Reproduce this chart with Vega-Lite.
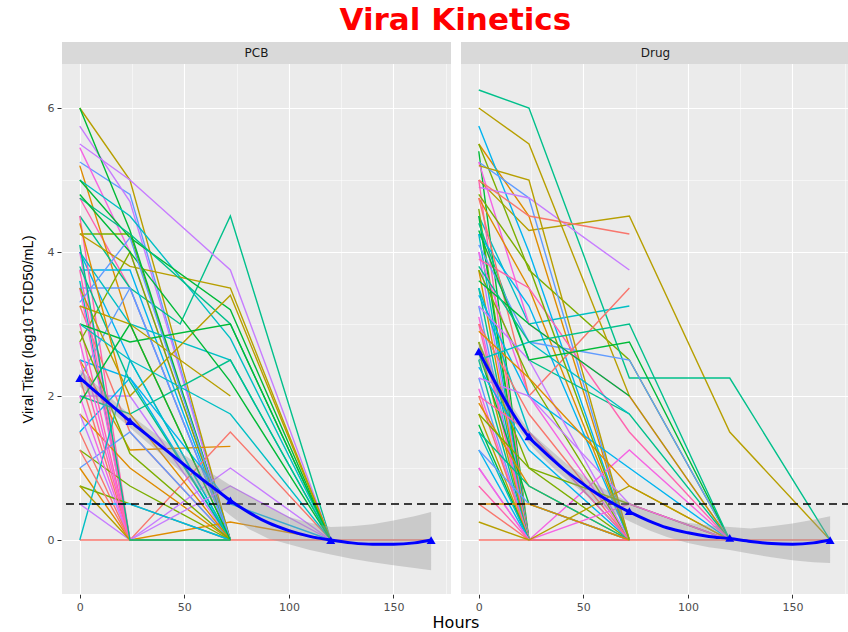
{
"$schema":"https://vega.github.io/schema/vega-lite/v6.json",
"padding":{"left":20,"top":5,"right":0,"bottom":0},
"title":{"text":"Viral Kinetics","font":"DejaVu Sans","fontSize":31,"fontWeight":"bold","color":"#FF0000","anchor":"middle","frame":"bounds","dx":20,"offset":5},
"config":{"view":{"fill":"#EBEBEB","stroke":null},"axis":{"domain":false,"gridColor":"#FFFFFF","tickColor":"#333333","labelColor":"#4D4D4D","labelFont":"DejaVu Sans","labelFontSize":11,"tickSize":4,"labelPadding":3,"titleFont":"Liberation Sans","titleFontWeight":"normal","titleColor":"#000000"}},
"data":{"values":[
{"k":"h","a":"PCB"},{"k":"h","a":"Drug"},
{"k":"m","a":"PCB","t":0,"v":2.25},{"k":"m","a":"PCB","t":24,"v":1.65},{"k":"m","a":"PCB","t":72,"v":0.55},{"k":"m","a":"PCB","t":120,"v":0},{"k":"m","a":"PCB","t":168,"v":0},
{"k":"m","a":"Drug","t":0,"v":2.62},{"k":"m","a":"Drug","t":24,"v":1.44},{"k":"m","a":"Drug","t":72,"v":0.4},{"k":"m","a":"Drug","t":120,"v":0.03},{"k":"m","a":"Drug","t":168,"v":0},
{"k":"f","a":"PCB","t":0,"v":2.25,"lo":2.13,"hi":2.37},{"k":"f","a":"PCB","t":6,"v":2.1,"lo":1.99,"hi":2.21},{"k":"f","a":"PCB","t":12,"v":1.95,"lo":1.85,"hi":2.05},{"k":"f","a":"PCB","t":18,"v":1.8,"lo":1.71,"hi":1.89},{"k":"f","a":"PCB","t":24,"v":1.65,"lo":1.56,"hi":1.74},{"k":"f","a":"PCB","t":30,"v":1.51,"lo":1.41,"hi":1.61},{"k":"f","a":"PCB","t":36,"v":1.37,"lo":1.26,"hi":1.48},{"k":"f","a":"PCB","t":42,"v":1.23,"lo":1.11,"hi":1.35},{"k":"f","a":"PCB","t":48,"v":1.09,"lo":0.96,"hi":1.22},{"k":"f","a":"PCB","t":54,"v":0.95,"lo":0.8,"hi":1.1},{"k":"f","a":"PCB","t":60,"v":0.81,"lo":0.64,"hi":0.98},{"k":"f","a":"PCB","t":66,"v":0.68,"lo":0.49,"hi":0.87},{"k":"f","a":"PCB","t":72,"v":0.55,"lo":0.34,"hi":0.76},{"k":"f","a":"PCB","t":81,"v":0.38,"lo":0.15,"hi":0.61},{"k":"f","a":"PCB","t":90,"v":0.24,"lo":0.02,"hi":0.46},{"k":"f","a":"PCB","t":100,"v":0.13,"lo":-0.06,"hi":0.32},{"k":"f","a":"PCB","t":110,"v":0.05,"lo":-0.14,"hi":0.24},{"k":"f","a":"PCB","t":120,"v":0,"lo":-0.2,"hi":0.18},{"k":"f","a":"PCB","t":130,"v":-0.04,"lo":-0.26,"hi":0.19},{"k":"f","a":"PCB","t":140,"v":-0.06,"lo":-0.31,"hi":0.22},{"k":"f","a":"PCB","t":150,"v":-0.06,"lo":-0.35,"hi":0.27},{"k":"f","a":"PCB","t":160,"v":-0.04,"lo":-0.39,"hi":0.33},{"k":"f","a":"PCB","t":168,"v":0,"lo":-0.42,"hi":0.39},
{"k":"f","a":"Drug","t":0,"v":2.62,"lo":2.48,"hi":2.76},{"k":"f","a":"Drug","t":4,"v":2.4,"lo":2.28,"hi":2.52},{"k":"f","a":"Drug","t":8,"v":2.18,"lo":2.07,"hi":2.29},{"k":"f","a":"Drug","t":12,"v":1.97,"lo":1.87,"hi":2.07},{"k":"f","a":"Drug","t":16,"v":1.77,"lo":1.68,"hi":1.86},{"k":"f","a":"Drug","t":20,"v":1.59,"lo":1.5,"hi":1.68},{"k":"f","a":"Drug","t":24,"v":1.43,"lo":1.34,"hi":1.52},{"k":"f","a":"Drug","t":30,"v":1.26,"lo":1.16,"hi":1.36},{"k":"f","a":"Drug","t":36,"v":1.1,"lo":0.99,"hi":1.21},{"k":"f","a":"Drug","t":42,"v":0.95,"lo":0.84,"hi":1.06},{"k":"f","a":"Drug","t":48,"v":0.82,"lo":0.7,"hi":0.94},{"k":"f","a":"Drug","t":54,"v":0.69,"lo":0.57,"hi":0.81},{"k":"f","a":"Drug","t":60,"v":0.58,"lo":0.45,"hi":0.71},{"k":"f","a":"Drug","t":66,"v":0.48,"lo":0.35,"hi":0.61},{"k":"f","a":"Drug","t":72,"v":0.39,"lo":0.26,"hi":0.52},{"k":"f","a":"Drug","t":81,"v":0.27,"lo":0.14,"hi":0.4},{"k":"f","a":"Drug","t":90,"v":0.17,"lo":0.04,"hi":0.3},{"k":"f","a":"Drug","t":100,"v":0.1,"lo":-0.04,"hi":0.24},{"k":"f","a":"Drug","t":110,"v":0.05,"lo":-0.1,"hi":0.2},{"k":"f","a":"Drug","t":120,"v":0.02,"lo":-0.14,"hi":0.18},{"k":"f","a":"Drug","t":130,"v":-0.02,"lo":-0.19,"hi":0.16},{"k":"f","a":"Drug","t":140,"v":-0.05,"lo":-0.24,"hi":0.19},{"k":"f","a":"Drug","t":150,"v":-0.06,"lo":-0.28,"hi":0.23},{"k":"f","a":"Drug","t":160,"v":-0.04,"lo":-0.31,"hi":0.28},{"k":"f","a":"Drug","t":168,"v":0,"lo":-0.32,"hi":0.33},
{"k":"s","a":"PCB","id":"P01","t":0,"v":3.6},{"k":"s","a":"PCB","id":"P01","t":24,"v":0},{"k":"s","a":"PCB","id":"P01","t":72,"v":0},
{"k":"s","a":"PCB","id":"P02","t":0,"v":4.0},{"k":"s","a":"PCB","id":"P02","t":24,"v":2.5},{"k":"s","a":"PCB","id":"P02","t":72,"v":0},
{"k":"s","a":"PCB","id":"P03","t":0,"v":5.25},{"k":"s","a":"PCB","id":"P03","t":24,"v":4.8},{"k":"s","a":"PCB","id":"P03","t":72,"v":0},
{"k":"s","a":"PCB","id":"P04","t":0,"v":5.75},{"k":"s","a":"PCB","id":"P04","t":24,"v":4.7},{"k":"s","a":"PCB","id":"P04","t":72,"v":0},
{"k":"s","a":"PCB","id":"P05","t":0,"v":5.45},{"k":"s","a":"PCB","id":"P05","t":24,"v":4.0},{"k":"s","a":"PCB","id":"P05","t":72,"v":0},
{"k":"s","a":"PCB","id":"P06","t":0,"v":4.75},{"k":"s","a":"PCB","id":"P06","t":24,"v":3.5},{"k":"s","a":"PCB","id":"P06","t":72,"v":0},
{"k":"s","a":"PCB","id":"P07","t":0,"v":0},{"k":"s","a":"PCB","id":"P07","t":24,"v":0},{"k":"s","a":"PCB","id":"P07","t":72,"v":0},{"k":"s","a":"PCB","id":"P07","t":120,"v":0},{"k":"s","a":"PCB","id":"P07","t":168,"v":0},
{"k":"s","a":"PCB","id":"P08","t":0,"v":5.2},{"k":"s","a":"PCB","id":"P08","t":24,"v":3.0},{"k":"s","a":"PCB","id":"P08","t":72,"v":0},
{"k":"s","a":"PCB","id":"P09","t":0,"v":6.0},{"k":"s","a":"PCB","id":"P09","t":24,"v":5.0},{"k":"s","a":"PCB","id":"P09","t":72,"v":0},
{"k":"s","a":"PCB","id":"P10","t":0,"v":4.25},{"k":"s","a":"PCB","id":"P10","t":24,"v":4.25},{"k":"s","a":"PCB","id":"P10","t":72,"v":0},
{"k":"s","a":"PCB","id":"P11","t":0,"v":6.0},{"k":"s","a":"PCB","id":"P11","t":24,"v":4.3},{"k":"s","a":"PCB","id":"P11","t":72,"v":0},
{"k":"s","a":"PCB","id":"P12","t":0,"v":4.5},{"k":"s","a":"PCB","id":"P12","t":24,"v":3.5},{"k":"s","a":"PCB","id":"P12","t":48,"v":3.0},{"k":"s","a":"PCB","id":"P12","t":72,"v":4.5},{"k":"s","a":"PCB","id":"P12","t":120,"v":0},
{"k":"s","a":"PCB","id":"P13","t":0,"v":5.0},{"k":"s","a":"PCB","id":"P13","t":24,"v":4.5},{"k":"s","a":"PCB","id":"P13","t":72,"v":2.8},{"k":"s","a":"PCB","id":"P13","t":120,"v":0},
{"k":"s","a":"PCB","id":"P14","t":0,"v":3.75},{"k":"s","a":"PCB","id":"P14","t":24,"v":3.75},{"k":"s","a":"PCB","id":"P14","t":72,"v":0},
{"k":"s","a":"PCB","id":"P15","t":0,"v":3.5},{"k":"s","a":"PCB","id":"P15","t":24,"v":3.5},{"k":"s","a":"PCB","id":"P15","t":72,"v":0},
{"k":"s","a":"PCB","id":"P16","t":0,"v":5.5},{"k":"s","a":"PCB","id":"P16","t":24,"v":5.0},{"k":"s","a":"PCB","id":"P16","t":72,"v":3.75},{"k":"s","a":"PCB","id":"P16","t":120,"v":0},
{"k":"s","a":"PCB","id":"P17","t":0,"v":4.0},{"k":"s","a":"PCB","id":"P17","t":24,"v":0},{"k":"s","a":"PCB","id":"P17","t":72,"v":0},
{"k":"s","a":"PCB","id":"P18","t":0,"v":4.5},{"k":"s","a":"PCB","id":"P18","t":24,"v":0},{"k":"s","a":"PCB","id":"P18","t":72,"v":0},
{"k":"s","a":"PCB","id":"P19","t":0,"v":3.25},{"k":"s","a":"PCB","id":"P19","t":24,"v":1.5},{"k":"s","a":"PCB","id":"P19","t":72,"v":0},
{"k":"s","a":"PCB","id":"P20","t":0,"v":2.5},{"k":"s","a":"PCB","id":"P20","t":24,"v":1.25},{"k":"s","a":"PCB","id":"P20","t":72,"v":1.3},
{"k":"s","a":"PCB","id":"P21","t":0,"v":4.25},{"k":"s","a":"PCB","id":"P21","t":24,"v":3.8},{"k":"s","a":"PCB","id":"P21","t":72,"v":3.5},{"k":"s","a":"PCB","id":"P21","t":120,"v":0},
{"k":"s","a":"PCB","id":"P22","t":0,"v":2.75},{"k":"s","a":"PCB","id":"P22","t":24,"v":4.0},{"k":"s","a":"PCB","id":"P22","t":72,"v":0},
{"k":"s","a":"PCB","id":"P23","t":0,"v":5.0},{"k":"s","a":"PCB","id":"P23","t":24,"v":4.2},{"k":"s","a":"PCB","id":"P23","t":72,"v":3.2},{"k":"s","a":"PCB","id":"P23","t":120,"v":0},
{"k":"s","a":"PCB","id":"P24","t":0,"v":4.75},{"k":"s","a":"PCB","id":"P24","t":24,"v":4.25},{"k":"s","a":"PCB","id":"P24","t":72,"v":3.0},{"k":"s","a":"PCB","id":"P24","t":120,"v":0},
{"k":"s","a":"PCB","id":"P25","t":0,"v":4.0},{"k":"s","a":"PCB","id":"P25","t":24,"v":3.0},{"k":"s","a":"PCB","id":"P25","t":72,"v":2.5},{"k":"s","a":"PCB","id":"P25","t":120,"v":0},
{"k":"s","a":"PCB","id":"P26","t":0,"v":2.5},{"k":"s","a":"PCB","id":"P26","t":24,"v":2.25},{"k":"s","a":"PCB","id":"P26","t":72,"v":0},
{"k":"s","a":"PCB","id":"P27","t":0,"v":2.25},{"k":"s","a":"PCB","id":"P27","t":24,"v":3.5},{"k":"s","a":"PCB","id":"P27","t":72,"v":0},
{"k":"s","a":"PCB","id":"P28","t":0,"v":2.0},{"k":"s","a":"PCB","id":"P28","t":24,"v":2.0},{"k":"s","a":"PCB","id":"P28","t":72,"v":0},
{"k":"s","a":"PCB","id":"P29","t":0,"v":3.5},{"k":"s","a":"PCB","id":"P29","t":24,"v":0},{"k":"s","a":"PCB","id":"P29","t":72,"v":0},
{"k":"s","a":"PCB","id":"P30","t":0,"v":3.75},{"k":"s","a":"PCB","id":"P30","t":24,"v":0},{"k":"s","a":"PCB","id":"P30","t":72,"v":0},
{"k":"s","a":"PCB","id":"P31","t":0,"v":2.25},{"k":"s","a":"PCB","id":"P31","t":24,"v":0},{"k":"s","a":"PCB","id":"P31","t":72,"v":1.5},{"k":"s","a":"PCB","id":"P31","t":120,"v":0},
{"k":"s","a":"PCB","id":"P32","t":0,"v":1.75},{"k":"s","a":"PCB","id":"P32","t":24,"v":1.0},{"k":"s","a":"PCB","id":"P32","t":72,"v":0},
{"k":"s","a":"PCB","id":"P33","t":0,"v":3.5},{"k":"s","a":"PCB","id":"P33","t":24,"v":2.0},{"k":"s","a":"PCB","id":"P33","t":72,"v":3.4},{"k":"s","a":"PCB","id":"P33","t":120,"v":0},
{"k":"s","a":"PCB","id":"P34","t":0,"v":1.25},{"k":"s","a":"PCB","id":"P34","t":24,"v":0.75},{"k":"s","a":"PCB","id":"P34","t":72,"v":0},
{"k":"s","a":"PCB","id":"P35","t":0,"v":3.0},{"k":"s","a":"PCB","id":"P35","t":24,"v":2.75},{"k":"s","a":"PCB","id":"P35","t":72,"v":3.0},{"k":"s","a":"PCB","id":"P35","t":120,"v":0},
{"k":"s","a":"PCB","id":"P36","t":0,"v":2.0},{"k":"s","a":"PCB","id":"P36","t":24,"v":1.75},{"k":"s","a":"PCB","id":"P36","t":72,"v":2.5},{"k":"s","a":"PCB","id":"P36","t":120,"v":0},
{"k":"s","a":"PCB","id":"P37","t":0,"v":3.0},{"k":"s","a":"PCB","id":"P37","t":24,"v":2.5},{"k":"s","a":"PCB","id":"P37","t":72,"v":1.75},{"k":"s","a":"PCB","id":"P37","t":120,"v":0},
{"k":"s","a":"PCB","id":"P38","t":0,"v":1.5},{"k":"s","a":"PCB","id":"P38","t":24,"v":2.25},{"k":"s","a":"PCB","id":"P38","t":72,"v":0.5},{"k":"s","a":"PCB","id":"P38","t":120,"v":0},
{"k":"s","a":"PCB","id":"P39","t":0,"v":1.0},{"k":"s","a":"PCB","id":"P39","t":24,"v":1.5},{"k":"s","a":"PCB","id":"P39","t":72,"v":0},
{"k":"s","a":"PCB","id":"P40","t":0,"v":1.75},{"k":"s","a":"PCB","id":"P40","t":24,"v":0},{"k":"s","a":"PCB","id":"P40","t":72,"v":1.0},{"k":"s","a":"PCB","id":"P40","t":120,"v":0},
{"k":"s","a":"PCB","id":"P41","t":0,"v":2.75},{"k":"s","a":"PCB","id":"P41","t":24,"v":0},{"k":"s","a":"PCB","id":"P41","t":72,"v":0},
{"k":"s","a":"PCB","id":"P42","t":0,"v":3.0},{"k":"s","a":"PCB","id":"P42","t":24,"v":0},{"k":"s","a":"PCB","id":"P42","t":72,"v":0},
{"k":"s","a":"PCB","id":"P43","t":0,"v":1.5},{"k":"s","a":"PCB","id":"P43","t":24,"v":0},{"k":"s","a":"PCB","id":"P43","t":72,"v":0},
{"k":"s","a":"PCB","id":"P44","t":0,"v":1.0},{"k":"s","a":"PCB","id":"P44","t":24,"v":0},{"k":"s","a":"PCB","id":"P44","t":72,"v":0.25},{"k":"s","a":"PCB","id":"P44","t":120,"v":0},
{"k":"s","a":"PCB","id":"P45","t":0,"v":3.25},{"k":"s","a":"PCB","id":"P45","t":24,"v":3.0},{"k":"s","a":"PCB","id":"P45","t":72,"v":2.0},
{"k":"s","a":"PCB","id":"P46","t":0,"v":0.75},{"k":"s","a":"PCB","id":"P46","t":24,"v":0.5},{"k":"s","a":"PCB","id":"P46","t":72,"v":0},
{"k":"s","a":"PCB","id":"P47","t":0,"v":4.8},{"k":"s","a":"PCB","id":"P47","t":24,"v":4.0},{"k":"s","a":"PCB","id":"P47","t":72,"v":2.2},{"k":"s","a":"PCB","id":"P47","t":120,"v":0},
{"k":"s","a":"PCB","id":"P48","t":0,"v":3.8},{"k":"s","a":"PCB","id":"P48","t":24,"v":2.2},{"k":"s","a":"PCB","id":"P48","t":72,"v":0},
{"k":"s","a":"PCB","id":"P49","t":0,"v":0},{"k":"s","a":"PCB","id":"P49","t":24,"v":2.5},{"k":"s","a":"PCB","id":"P49","t":72,"v":0},
{"k":"s","a":"PCB","id":"P50","t":0,"v":0.5},{"k":"s","a":"PCB","id":"P50","t":24,"v":0.5},{"k":"s","a":"PCB","id":"P50","t":72,"v":0},
{"k":"s","a":"PCB","id":"P51","t":0,"v":3.3},{"k":"s","a":"PCB","id":"P51","t":24,"v":4.2},{"k":"s","a":"PCB","id":"P51","t":72,"v":0},
{"k":"s","a":"PCB","id":"P52","t":0,"v":0.5},{"k":"s","a":"PCB","id":"P52","t":24,"v":0},{"k":"s","a":"PCB","id":"P52","t":72,"v":0.75},{"k":"s","a":"PCB","id":"P52","t":120,"v":0},
{"k":"s","a":"PCB","id":"P53","t":0,"v":2.0},{"k":"s","a":"PCB","id":"P53","t":24,"v":0},{"k":"s","a":"PCB","id":"P53","t":72,"v":0},
{"k":"s","a":"PCB","id":"P54","t":0,"v":2.5},{"k":"s","a":"PCB","id":"P54","t":24,"v":0},{"k":"s","a":"PCB","id":"P54","t":72,"v":0},
{"k":"s","a":"PCB","id":"P55","t":0,"v":1.25},{"k":"s","a":"PCB","id":"P55","t":24,"v":0},{"k":"s","a":"PCB","id":"P55","t":72,"v":0},
{"k":"s","a":"PCB","id":"P56","t":0,"v":4.4},{"k":"s","a":"PCB","id":"P56","t":24,"v":1.75},{"k":"s","a":"PCB","id":"P56","t":72,"v":0},
{"k":"s","a":"PCB","id":"P57","t":0,"v":0.75},{"k":"s","a":"PCB","id":"P57","t":24,"v":0},{"k":"s","a":"PCB","id":"P57","t":72,"v":0},
{"k":"s","a":"PCB","id":"P58","t":0,"v":2.9},{"k":"s","a":"PCB","id":"P58","t":24,"v":1.2},{"k":"s","a":"PCB","id":"P58","t":72,"v":0},
{"k":"s","a":"PCB","id":"P59","t":0,"v":1.9},{"k":"s","a":"PCB","id":"P59","t":24,"v":3.0},{"k":"s","a":"PCB","id":"P59","t":72,"v":0},
{"k":"s","a":"PCB","id":"P60","t":0,"v":4.1},{"k":"s","a":"PCB","id":"P60","t":24,"v":0},{"k":"s","a":"PCB","id":"P60","t":72,"v":0},
{"k":"s","a":"Drug","id":"D01","t":0,"v":0},{"k":"s","a":"Drug","id":"D01","t":24,"v":0},{"k":"s","a":"Drug","id":"D01","t":72,"v":0},{"k":"s","a":"Drug","id":"D01","t":120,"v":0},{"k":"s","a":"Drug","id":"D01","t":168,"v":0},
{"k":"s","a":"Drug","id":"D02","t":0,"v":5.5},{"k":"s","a":"Drug","id":"D02","t":24,"v":4.5},{"k":"s","a":"Drug","id":"D02","t":72,"v":0},
{"k":"s","a":"Drug","id":"D03","t":0,"v":5.0},{"k":"s","a":"Drug","id":"D03","t":24,"v":4.3},{"k":"s","a":"Drug","id":"D03","t":72,"v":4.5},{"k":"s","a":"Drug","id":"D03","t":120,"v":1.5},{"k":"s","a":"Drug","id":"D03","t":168,"v":0},
{"k":"s","a":"Drug","id":"D04","t":0,"v":5.5},{"k":"s","a":"Drug","id":"D04","t":24,"v":3.75},{"k":"s","a":"Drug","id":"D04","t":72,"v":2.5},{"k":"s","a":"Drug","id":"D04","t":120,"v":0},
{"k":"s","a":"Drug","id":"D05","t":0,"v":5.4},{"k":"s","a":"Drug","id":"D05","t":24,"v":0},{"k":"s","a":"Drug","id":"D05","t":72,"v":0},
{"k":"s","a":"Drug","id":"D06","t":0,"v":6.25},{"k":"s","a":"Drug","id":"D06","t":24,"v":6.0},{"k":"s","a":"Drug","id":"D06","t":72,"v":2.25},{"k":"s","a":"Drug","id":"D06","t":120,"v":2.25},{"k":"s","a":"Drug","id":"D06","t":168,"v":0},
{"k":"s","a":"Drug","id":"D07","t":0,"v":4.5},{"k":"s","a":"Drug","id":"D07","t":24,"v":3.0},{"k":"s","a":"Drug","id":"D07","t":72,"v":3.25},
{"k":"s","a":"Drug","id":"D08","t":0,"v":5.75},{"k":"s","a":"Drug","id":"D08","t":24,"v":4.0},{"k":"s","a":"Drug","id":"D08","t":72,"v":0},
{"k":"s","a":"Drug","id":"D09","t":0,"v":5.25},{"k":"s","a":"Drug","id":"D09","t":24,"v":4.75},{"k":"s","a":"Drug","id":"D09","t":72,"v":0},
{"k":"s","a":"Drug","id":"D10","t":0,"v":4.9},{"k":"s","a":"Drug","id":"D10","t":24,"v":4.75},{"k":"s","a":"Drug","id":"D10","t":72,"v":3.75},
{"k":"s","a":"Drug","id":"D11","t":0,"v":5.25},{"k":"s","a":"Drug","id":"D11","t":24,"v":3.0},{"k":"s","a":"Drug","id":"D11","t":72,"v":2.0},{"k":"s","a":"Drug","id":"D11","t":120,"v":0},
{"k":"s","a":"Drug","id":"D12","t":0,"v":5.0},{"k":"s","a":"Drug","id":"D12","t":24,"v":0},{"k":"s","a":"Drug","id":"D12","t":72,"v":0},
{"k":"s","a":"Drug","id":"D13","t":0,"v":5.0},{"k":"s","a":"Drug","id":"D13","t":24,"v":4.5},{"k":"s","a":"Drug","id":"D13","t":72,"v":4.25},
{"k":"s","a":"Drug","id":"D14","t":0,"v":4.75},{"k":"s","a":"Drug","id":"D14","t":24,"v":3.5},{"k":"s","a":"Drug","id":"D14","t":72,"v":0},
{"k":"s","a":"Drug","id":"D15","t":0,"v":6.0},{"k":"s","a":"Drug","id":"D15","t":24,"v":5.5},{"k":"s","a":"Drug","id":"D15","t":72,"v":2.0},{"k":"s","a":"Drug","id":"D15","t":120,"v":0},
{"k":"s","a":"Drug","id":"D16","t":0,"v":4.6},{"k":"s","a":"Drug","id":"D16","t":24,"v":0},{"k":"s","a":"Drug","id":"D16","t":72,"v":0},
{"k":"s","a":"Drug","id":"D17","t":0,"v":4.5},{"k":"s","a":"Drug","id":"D17","t":24,"v":0},{"k":"s","a":"Drug","id":"D17","t":72,"v":0},
{"k":"s","a":"Drug","id":"D18","t":0,"v":4.4},{"k":"s","a":"Drug","id":"D18","t":24,"v":2.5},{"k":"s","a":"Drug","id":"D18","t":72,"v":1.75},{"k":"s","a":"Drug","id":"D18","t":120,"v":0},
{"k":"s","a":"Drug","id":"D19","t":0,"v":4.25},{"k":"s","a":"Drug","id":"D19","t":24,"v":0},{"k":"s","a":"Drug","id":"D19","t":72,"v":0},
{"k":"s","a":"Drug","id":"D20","t":0,"v":4.25},{"k":"s","a":"Drug","id":"D20","t":24,"v":3.25},{"k":"s","a":"Drug","id":"D20","t":72,"v":0},
{"k":"s","a":"Drug","id":"D21","t":0,"v":4.1},{"k":"s","a":"Drug","id":"D21","t":24,"v":2.75},{"k":"s","a":"Drug","id":"D21","t":72,"v":2.5},{"k":"s","a":"Drug","id":"D21","t":120,"v":0},
{"k":"s","a":"Drug","id":"D22","t":0,"v":4.0},{"k":"s","a":"Drug","id":"D22","t":24,"v":0},{"k":"s","a":"Drug","id":"D22","t":72,"v":0},
{"k":"s","a":"Drug","id":"D23","t":0,"v":4.0},{"k":"s","a":"Drug","id":"D23","t":24,"v":2.0},{"k":"s","a":"Drug","id":"D23","t":72,"v":0},
{"k":"s","a":"Drug","id":"D24","t":0,"v":3.9},{"k":"s","a":"Drug","id":"D24","t":24,"v":3.5},{"k":"s","a":"Drug","id":"D24","t":72,"v":1.5},{"k":"s","a":"Drug","id":"D24","t":120,"v":0},
{"k":"s","a":"Drug","id":"D25","t":0,"v":4.75},{"k":"s","a":"Drug","id":"D25","t":24,"v":2.0},{"k":"s","a":"Drug","id":"D25","t":72,"v":3.5},
{"k":"s","a":"Drug","id":"D26","t":0,"v":3.75},{"k":"s","a":"Drug","id":"D26","t":24,"v":0},{"k":"s","a":"Drug","id":"D26","t":72,"v":0},
{"k":"s","a":"Drug","id":"D27","t":0,"v":5.2},{"k":"s","a":"Drug","id":"D27","t":24,"v":5.0},{"k":"s","a":"Drug","id":"D27","t":72,"v":0},
{"k":"s","a":"Drug","id":"D28","t":0,"v":3.75},{"k":"s","a":"Drug","id":"D28","t":24,"v":2.25},{"k":"s","a":"Drug","id":"D28","t":72,"v":0},
{"k":"s","a":"Drug","id":"D29","t":0,"v":3.6},{"k":"s","a":"Drug","id":"D29","t":24,"v":3.0},{"k":"s","a":"Drug","id":"D29","t":72,"v":2.0},
{"k":"s","a":"Drug","id":"D30","t":0,"v":3.5},{"k":"s","a":"Drug","id":"D30","t":24,"v":0},{"k":"s","a":"Drug","id":"D30","t":72,"v":0},
{"k":"s","a":"Drug","id":"D31","t":0,"v":3.5},{"k":"s","a":"Drug","id":"D31","t":24,"v":1.5},{"k":"s","a":"Drug","id":"D31","t":72,"v":0},
{"k":"s","a":"Drug","id":"D32","t":0,"v":3.4},{"k":"s","a":"Drug","id":"D32","t":24,"v":2.0},{"k":"s","a":"Drug","id":"D32","t":72,"v":1.0},{"k":"s","a":"Drug","id":"D32","t":120,"v":0},
{"k":"s","a":"Drug","id":"D33","t":0,"v":3.25},{"k":"s","a":"Drug","id":"D33","t":24,"v":0},{"k":"s","a":"Drug","id":"D33","t":72,"v":0},
{"k":"s","a":"Drug","id":"D34","t":0,"v":3.25},{"k":"s","a":"Drug","id":"D34","t":24,"v":2.5},{"k":"s","a":"Drug","id":"D34","t":72,"v":0},
{"k":"s","a":"Drug","id":"D35","t":0,"v":3.1},{"k":"s","a":"Drug","id":"D35","t":24,"v":0},{"k":"s","a":"Drug","id":"D35","t":72,"v":1.25},{"k":"s","a":"Drug","id":"D35","t":120,"v":0},
{"k":"s","a":"Drug","id":"D36","t":0,"v":3.0},{"k":"s","a":"Drug","id":"D36","t":24,"v":0},{"k":"s","a":"Drug","id":"D36","t":72,"v":0},
{"k":"s","a":"Drug","id":"D37","t":0,"v":3.0},{"k":"s","a":"Drug","id":"D37","t":24,"v":1.75},{"k":"s","a":"Drug","id":"D37","t":72,"v":0},
{"k":"s","a":"Drug","id":"D38","t":0,"v":2.9},{"k":"s","a":"Drug","id":"D38","t":24,"v":2.25},{"k":"s","a":"Drug","id":"D38","t":72,"v":0.75},{"k":"s","a":"Drug","id":"D38","t":120,"v":0},
{"k":"s","a":"Drug","id":"D39","t":0,"v":2.75},{"k":"s","a":"Drug","id":"D39","t":24,"v":0},{"k":"s","a":"Drug","id":"D39","t":72,"v":0},
{"k":"s","a":"Drug","id":"D40","t":0,"v":2.75},{"k":"s","a":"Drug","id":"D40","t":24,"v":1.0},{"k":"s","a":"Drug","id":"D40","t":72,"v":0},
{"k":"s","a":"Drug","id":"D41","t":0,"v":2.6},{"k":"s","a":"Drug","id":"D41","t":24,"v":0.5},{"k":"s","a":"Drug","id":"D41","t":72,"v":0},
{"k":"s","a":"Drug","id":"D42","t":0,"v":2.5},{"k":"s","a":"Drug","id":"D42","t":24,"v":0},{"k":"s","a":"Drug","id":"D42","t":72,"v":0},
{"k":"s","a":"Drug","id":"D43","t":0,"v":2.5},{"k":"s","a":"Drug","id":"D43","t":24,"v":2.75},{"k":"s","a":"Drug","id":"D43","t":72,"v":1.75},
{"k":"s","a":"Drug","id":"D44","t":0,"v":2.4},{"k":"s","a":"Drug","id":"D44","t":24,"v":1.25},{"k":"s","a":"Drug","id":"D44","t":72,"v":0},
{"k":"s","a":"Drug","id":"D45","t":0,"v":2.25},{"k":"s","a":"Drug","id":"D45","t":24,"v":0},{"k":"s","a":"Drug","id":"D45","t":72,"v":0},
{"k":"s","a":"Drug","id":"D46","t":0,"v":2.25},{"k":"s","a":"Drug","id":"D46","t":24,"v":2.0},{"k":"s","a":"Drug","id":"D46","t":72,"v":0.5},{"k":"s","a":"Drug","id":"D46","t":120,"v":0},
{"k":"s","a":"Drug","id":"D47","t":0,"v":2.1},{"k":"s","a":"Drug","id":"D47","t":24,"v":0},{"k":"s","a":"Drug","id":"D47","t":72,"v":0},
{"k":"s","a":"Drug","id":"D48","t":0,"v":2.0},{"k":"s","a":"Drug","id":"D48","t":24,"v":1.5},{"k":"s","a":"Drug","id":"D48","t":72,"v":0},
{"k":"s","a":"Drug","id":"D49","t":0,"v":2.0},{"k":"s","a":"Drug","id":"D49","t":24,"v":0},{"k":"s","a":"Drug","id":"D49","t":72,"v":0},
{"k":"s","a":"Drug","id":"D50","t":0,"v":1.9},{"k":"s","a":"Drug","id":"D50","t":24,"v":0.75},{"k":"s","a":"Drug","id":"D50","t":72,"v":0},
{"k":"s","a":"Drug","id":"D51","t":0,"v":1.75},{"k":"s","a":"Drug","id":"D51","t":24,"v":0},{"k":"s","a":"Drug","id":"D51","t":72,"v":0},
{"k":"s","a":"Drug","id":"D52","t":0,"v":1.75},{"k":"s","a":"Drug","id":"D52","t":24,"v":1.0},{"k":"s","a":"Drug","id":"D52","t":72,"v":0.5},{"k":"s","a":"Drug","id":"D52","t":120,"v":0},
{"k":"s","a":"Drug","id":"D53","t":0,"v":1.6},{"k":"s","a":"Drug","id":"D53","t":24,"v":0},{"k":"s","a":"Drug","id":"D53","t":72,"v":0},
{"k":"s","a":"Drug","id":"D54","t":0,"v":1.5},{"k":"s","a":"Drug","id":"D54","t":24,"v":0.75},{"k":"s","a":"Drug","id":"D54","t":72,"v":0},
{"k":"s","a":"Drug","id":"D55","t":0,"v":1.5},{"k":"s","a":"Drug","id":"D55","t":24,"v":0},{"k":"s","a":"Drug","id":"D55","t":72,"v":0},
{"k":"s","a":"Drug","id":"D56","t":0,"v":1.25},{"k":"s","a":"Drug","id":"D56","t":24,"v":0},{"k":"s","a":"Drug","id":"D56","t":72,"v":0},
{"k":"s","a":"Drug","id":"D57","t":0,"v":1.25},{"k":"s","a":"Drug","id":"D57","t":24,"v":0.5},{"k":"s","a":"Drug","id":"D57","t":72,"v":0},
{"k":"s","a":"Drug","id":"D58","t":0,"v":1.0},{"k":"s","a":"Drug","id":"D58","t":24,"v":0},{"k":"s","a":"Drug","id":"D58","t":72,"v":0},
{"k":"s","a":"Drug","id":"D59","t":0,"v":1.0},{"k":"s","a":"Drug","id":"D59","t":24,"v":0},{"k":"s","a":"Drug","id":"D59","t":72,"v":0.5},{"k":"s","a":"Drug","id":"D59","t":120,"v":0},
{"k":"s","a":"Drug","id":"D60","t":0,"v":0.75},{"k":"s","a":"Drug","id":"D60","t":24,"v":0},{"k":"s","a":"Drug","id":"D60","t":72,"v":0},
{"k":"s","a":"Drug","id":"D61","t":0,"v":0.5},{"k":"s","a":"Drug","id":"D61","t":24,"v":0},{"k":"s","a":"Drug","id":"D61","t":72,"v":0},
{"k":"s","a":"Drug","id":"D62","t":0,"v":0.5},{"k":"s","a":"Drug","id":"D62","t":24,"v":0.5},{"k":"s","a":"Drug","id":"D62","t":72,"v":0},
{"k":"s","a":"Drug","id":"D63","t":0,"v":0.25},{"k":"s","a":"Drug","id":"D63","t":24,"v":0},{"k":"s","a":"Drug","id":"D63","t":72,"v":0.75},{"k":"s","a":"Drug","id":"D63","t":120,"v":0},
{"k":"s","a":"Drug","id":"D64","t":0,"v":4.8},{"k":"s","a":"Drug","id":"D64","t":24,"v":3.8},{"k":"s","a":"Drug","id":"D64","t":72,"v":0},
{"k":"s","a":"Drug","id":"D65","t":0,"v":4.3},{"k":"s","a":"Drug","id":"D65","t":24,"v":2.5},{"k":"s","a":"Drug","id":"D65","t":72,"v":2.75},{"k":"s","a":"Drug","id":"D65","t":120,"v":0},
{"k":"s","a":"Drug","id":"D66","t":0,"v":3.8},{"k":"s","a":"Drug","id":"D66","t":24,"v":2.75},{"k":"s","a":"Drug","id":"D66","t":72,"v":3.0},{"k":"s","a":"Drug","id":"D66","t":120,"v":0}
]},
"facet":{"column":{"field":"a","type":"nominal","sort":["PCB","Drug"],"title":"Hours","header":{"labels":false,"titleOrient":"bottom","titleFont":"DejaVu Sans","titleFontSize":16,"titleFontWeight":"normal","titleColor":"#000000","titlePadding":-7}}},
"spacing":8,
"spec":{
"width":389,"height":552,
"layer":[
{"transform":[{"filter":"datum.k==='s'"}],"mark":{"type":"line","strokeWidth":1.4},
 "encoding":{
  "x":{"field":"t","type":"quantitative","scale":{"domain":[-8.5,177.5],"nice":false,"zero":false},"title":null,
   "axis":{"values":[0,25,50,75,100,125,150,175],"format":"d","labelExpr":"datum.value % 50 === 0 ? datum.label : ''","gridWidth":{"condition":{"test":"datum.value % 50 === 0","value":1.1},"value":0.5},"tickOpacity":{"condition":{"test":"datum.value % 50 === 0","value":1},"value":0}}},
  "y":{"field":"v","type":"quantitative","scale":{"domain":[-0.75,6.917],"nice":false,"zero":false},"title":"Viral Titer (log10 TCID50/mL)",
   "axis":{"values":[0,1,2,3,4,5,6],"format":"d","labelExpr":"datum.value % 2 === 0 ? datum.label : ''","gridWidth":{"condition":{"test":"datum.value % 2 === 0","value":1.1},"value":0.5},"tickOpacity":{"condition":{"test":"datum.value % 2 === 0","value":1},"value":0},"titleFontSize":14.5,"titlePadding":12,"titleY":287}},
  "color":{"field":"id","type":"nominal","legend":null,"scale":{"range":["#F8766D","#DE8C00","#B79F00","#7CAE00","#00BA38","#00C08B","#00BFC4","#00B4F0","#619CFF","#C77CFF","#F564E3","#FF64B0"]}}}},
{"transform":[{"filter":"datum.k==='h'"}],"mark":{"type":"rect","color":"#D9D9D9"},
 "encoding":{"x":{"datum":-8.5,"type":"quantitative"},"x2":{"datum":177.5},"y":{"datum":6.917,"type":"quantitative"},"y2":{"datum":6.611}}},
{"transform":[{"filter":"datum.k==='h'"}],"mark":{"type":"text","font":"DejaVu Sans","fontSize":12,"color":"#1A1A1A","baseline":"middle","align":"center"},
 "encoding":{"x":{"datum":84.5,"type":"quantitative"},"y":{"datum":6.764,"type":"quantitative"},"text":{"field":"a","type":"nominal"}}},
{"transform":[{"filter":"datum.k==='h'"}],"mark":{"type":"rule","color":"#000000","strokeWidth":1.3,"strokeDash":[8,5]},
 "encoding":{"y":{"datum":0.5,"type":"quantitative"}}},
{"transform":[{"filter":"datum.k==='f'"}],"mark":{"type":"area","color":"#999999","opacity":0.4},
 "encoding":{"x":{"field":"t","type":"quantitative","title":null},"y":{"field":"lo","type":"quantitative","title":"Viral Titer (log10 TCID50/mL)"},"y2":{"field":"hi"}}},
{"transform":[{"filter":"datum.k==='f'"}],"mark":{"type":"line","color":"#0000FF","strokeWidth":3,"interpolate":"monotone"},
 "encoding":{"x":{"field":"t","type":"quantitative","title":null},"y":{"field":"v","type":"quantitative","title":"Viral Titer (log10 TCID50/mL)"}}},
{"transform":[{"filter":"datum.k==='m'"}],"mark":{"type":"point","shape":"triangle-up","filled":true,"color":"#0000FF","size":80,"opacity":1},
 "encoding":{"x":{"field":"t","type":"quantitative","title":null},"y":{"field":"v","type":"quantitative","title":"Viral Titer (log10 TCID50/mL)"}}}
]}
}
